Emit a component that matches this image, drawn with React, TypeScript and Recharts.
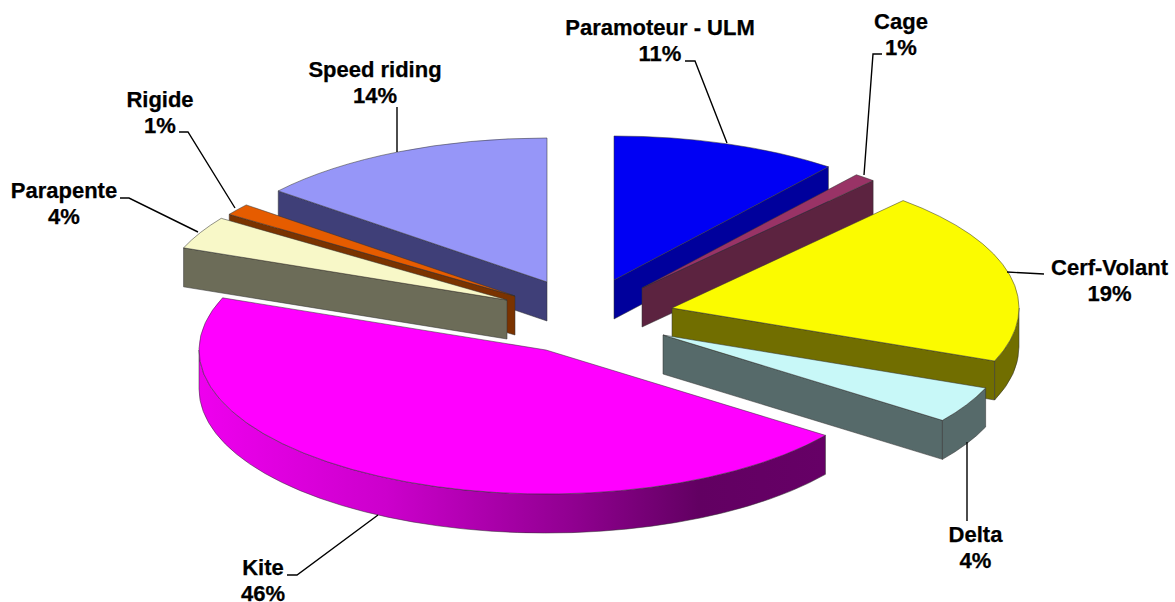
import React from "react";
import { PieChart, Pie } from "recharts";

// Drawn clockwise from 12 o'clock. The left group is kept apart so it can be
// painted back to front (speed riding sits behind rigide, rigide behind parapente).
const rightNames = ["Paramoteur - ULM", "Cage", "Cerf-Volant", "Delta", "Kite"];
const rightValues = [10.6, 1.0, 19.4, 4.1, 45.8];
const leftNames = ["Speed riding", "Rigide", "Parapente"];
const leftValues = [14.1, 1.3, 3.7];

const topColors: Record<string, string> = {
  "Paramoteur - ULM": "#0000f4",
  Cage: "#993366",
  "Cerf-Volant": "#fbfb00",
  Delta: "#c8f8f8",
  Kite: "#ff00ff",
  Parapente: "#f8f8c8",
  Rigide: "#e65c00",
  "Speed riding": "#9696f8",
};
const wallColors: Record<string, string> = {
  "Paramoteur - ULM": "#00009c",
  Cage: "#5c2340",
  "Cerf-Volant": "#716e00",
  Delta: "#566a6a",
  Kite: "url(#kiteRim)",
  Parapente: "#6c6c58",
  Rigide: "#7a3300",
  "Speed riding": "#3f3f78",
};

// how far each slice is pulled out of the pie, in px
const explode: Record<string, [number, number]> = {
  "Paramoteur - ULM": [14, -20],
  Cage: [42, -12],
  "Cerf-Volant": [72, 8],
  Delta: [63, 35],
  Kite: [-54, 50],
  Parapente: [-93, 0],
  Rigide: [-85, -4],
  "Speed riding": [-53, -18],
};

// label centre x, first baseline y, leader line points
const labelLayout: Record<string, { x: number; y: number; line: string }> = {
  "Paramoteur - ULM": { x: 660, y: 35, line: "685,61 695,61 727,143" },
  Cage: { x: 901, y: 29, line: "882,54 873,54 864,175" },
  "Cerf-Volant": { x: 1109.5, y: 274.5, line: "1044,274 1007,272" },
  Delta: { x: 975.5, y: 542, line: "967,521 967,442" },
  Kite: { x: 263, y: 574.5, line: "287,575 297,575 378,515" },
  Parapente: { x: 64, y: 198, line: "120,198 129,198 198,232" },
  Rigide: { x: 160, y: 107, line: "179,132 188,132 235,208" },
  "Speed riding": { x: 375, y: 76.5, line: "397,107 397,152" },
};

const WIDTH = 1175;
const HEIGHT = 602;
const CX = 600;
const CY = 300;
const RADIUS = 347;
const SQUASH = 0.415;
const DEPTH = 39;
const LINE_HEIGHT = 26;
const OUTLINE = "rgba(50,50,50,0.75)";

const rightData = rightNames.map((name, i) => ({ name, value: rightValues[i] }));
const leftData = leftNames.map((name, i) => ({ name, value: leftValues[i] }));
const total = [...rightValues, ...leftValues].reduce((a, b) => a + b, 0);
const leftSweep = (leftValues.reduce((a, b) => a + b, 0) / total) * 360;

const SliceShape = (props: any) => {
  const { cx, cy, outerRadius, startAngle, endAngle, name } = props;
  const [dx, dy] = explode[name];
  const rx = outerRadius;
  const ry = outerRadius * SQUASH;
  const ox = cx + dx;
  const oy = cy + dy;
  const hi = Math.max(startAngle, endAngle);
  const lo = Math.min(startAngle, endAngle);
  const cosDeg = (deg: number) => Math.cos((deg * Math.PI) / 180);

  const pt = (deg: number, drop = 0) => {
    const a = (deg * Math.PI) / 180;
    return `${ox + rx * Math.cos(a)} ${oy - ry * Math.sin(a) + drop}`;
  };
  const arc = (from: number, to: number, drop = 0) => {
    const large = Math.abs(from - to) > 180 ? 1 : 0;
    const sweep = to < from ? 1 : 0;
    return `A ${rx} ${ry} 0 ${large} ${sweep} ${pt(to, drop)}`;
  };

  const top = `M ${ox} ${oy} L ${pt(hi)} ${arc(hi, lo)} Z`;
  const side = (deg: number) =>
    `M ${ox} ${oy} L ${pt(deg)} L ${pt(deg, DEPTH)} L ${ox} ${oy + DEPTH} Z`;

  // only the front half of the rim can be seen
  let rim = "";
  const rimHi = Math.min(hi, 0);
  const rimLo = Math.max(lo, -180);
  if (rimHi > rimLo) {
    rim = `M ${pt(rimHi)} ${arc(rimHi, rimLo)} L ${pt(rimLo, DEPTH)} ${arc(rimLo, rimHi, DEPTH)} Z`;
  }

  const wall = wallColors[name];
  return (
    <g>
      {name === "Kite" && (
        <defs>
          <linearGradient
            id="kiteRim"
            gradientUnits="userSpaceOnUse"
            x1={ox - rx}
            y1={0}
            x2={ox + rx * 0.8}
            y2={0}
          >
            <stop offset="0" stopColor="#ee00ee" />
            <stop offset="0.3" stopColor="#cc00cc" />
            <stop offset="0.6" stopColor="#900090" />
            <stop offset="0.8" stopColor="#620062" />
            <stop offset="1" stopColor="#660066" />
          </linearGradient>
        </defs>
      )}
      {/* side walls that face the viewer */}
      {cosDeg(hi) < -0.001 && <path d={side(hi)} fill={wall} stroke={OUTLINE} strokeWidth={0.7} />}
      {cosDeg(lo) > 0.001 && <path d={side(lo)} fill={wall} stroke={OUTLINE} strokeWidth={0.7} />}
      {rim && <path d={rim} fill={wall} stroke={OUTLINE} strokeWidth={0.7} />}
      <path d={top} fill={topColors[name]} stroke={OUTLINE} strokeWidth={0.7} />
    </g>
  );
};

const SliceLabel = (props: any) => {
  const { name, value } = props;
  const pos = labelLayout[name];
  const style = {
    fontFamily: "'Liberation Sans', Arial, sans-serif",
    fontWeight: 700,
    fontSize: 22,
    fill: "#000",
    stroke: "#000",
    strokeWidth: 0.25,
  };
  return (
    <g>
      <polyline points={pos.line} fill="none" stroke="#000" strokeWidth={1.4} />
      <text x={pos.x} y={pos.y} textAnchor="middle" style={style}>
        {name}
      </text>
      <text x={pos.x} y={pos.y + LINE_HEIGHT} textAnchor="middle" style={style}>
        {`${Math.round(value)}%`}
      </text>
    </g>
  );
};

export default function App() {
  return (
    <div style={{ position: "absolute", left: 0, top: 0, width: WIDTH, height: HEIGHT, background: "#fff" }}>
      <PieChart width={WIDTH} height={HEIGHT} margin={{ top: 0, right: 0, bottom: 0, left: 0 }}>
        <Pie
          data={leftData}
          dataKey="value"
          nameKey="name"
          cx={CX}
          cy={CY}
          outerRadius={RADIUS}
          startAngle={90}
          endAngle={90 + leftSweep}
          stroke="none"
          shape={SliceShape}
          label={SliceLabel}
          labelLine={false}
          isAnimationActive={false}
        />
        <Pie
          data={rightData}
          dataKey="value"
          nameKey="name"
          cx={CX}
          cy={CY}
          outerRadius={RADIUS}
          startAngle={90}
          endAngle={90 + leftSweep - 360}
          stroke="none"
          shape={SliceShape}
          label={SliceLabel}
          labelLine={false}
          isAnimationActive={false}
        />
      </PieChart>
    </div>
  );
}
